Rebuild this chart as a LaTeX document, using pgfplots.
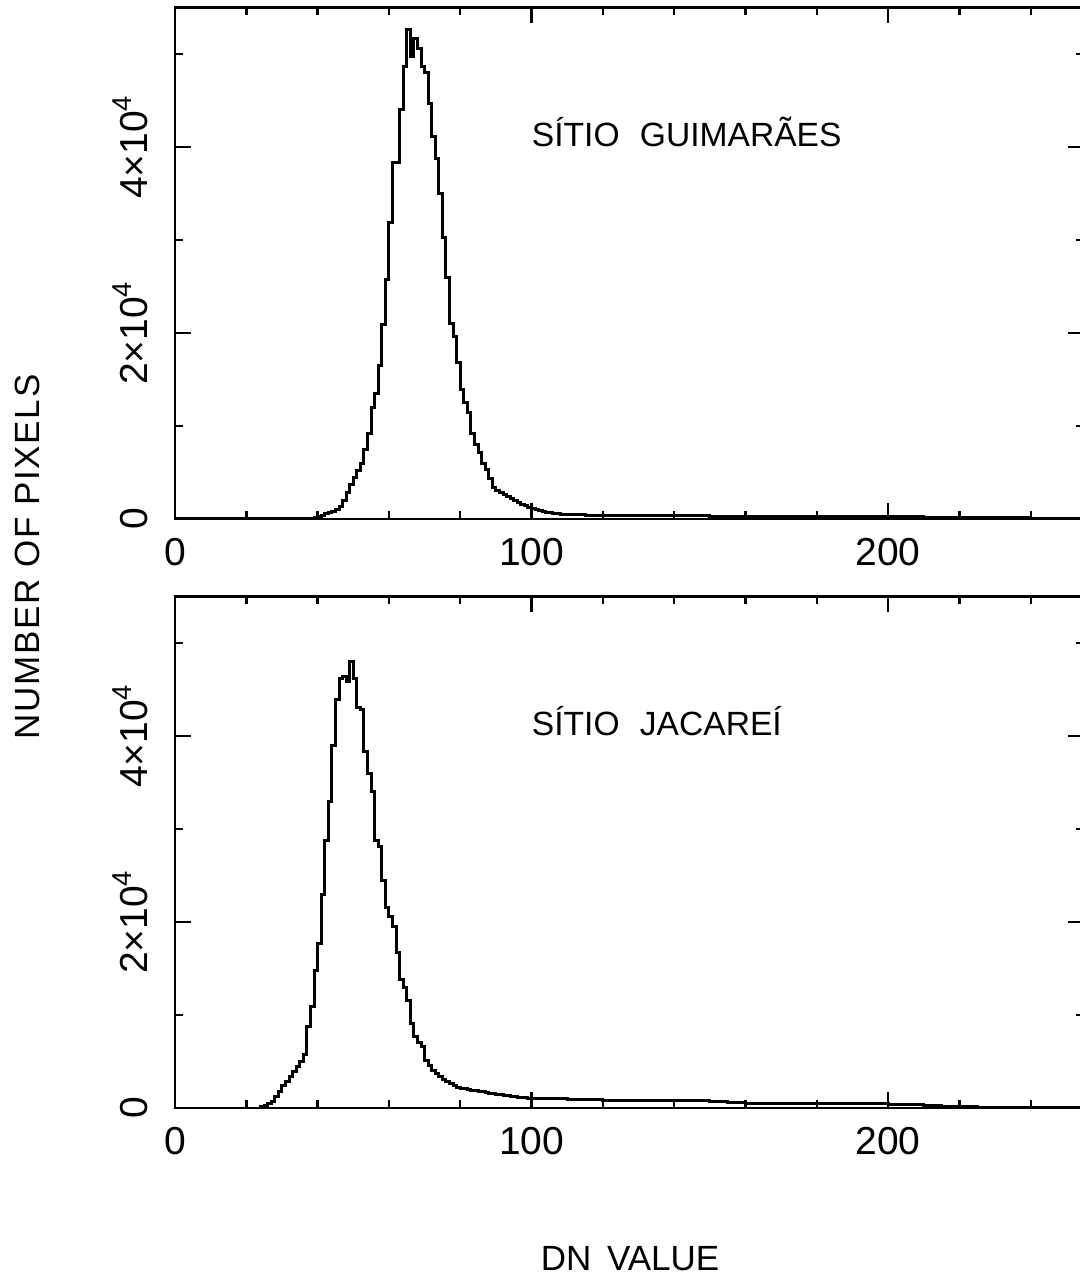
\documentclass[border=0pt]{standalone}
\usepackage{pgfplots}
\pgfplotsset{compat=1.18}
\usepackage{fontspec}
\setmainfont{Liberation Sans}
\newcommand{\tickfont}{\fontsize{19.5}{22}\selectfont}
\newcommand{\labfont}{\fontsize{17.5}{21}\selectfont}
\newcommand{\sitefont}{\fontsize{16.8}{20}\selectfont}

\pgfplotsset{
  histax/.style={
    scale only axis, width=454.6pt, height=255.8pt,
    xmin=0, xmax=255, ymin=0, ymax=55000,
    axis line style={line width=1.4pt, black},
    tick style={line width=1.2pt, black},
    major tick length=8pt, minor tick length=4pt,
    tick align=inside, xtick pos=both, ytick pos=both,
    xtick={0,100,200}, xticklabels={0,100,200},
    minor xtick={20,40,60,80,120,140,160,180,220,240},
    ytick={0,20000,40000},
    yticklabels={0,2×10\textsuperscript{4},4×10\textsuperscript{4}},
    minor ytick={10000,30000,50000},
    scaled y ticks=false,
    xticklabel style={font=\tickfont, anchor=north, inner sep=0pt},
    xticklabel shift=9.5pt,
    yticklabel style={font=\tickfont, rotate=90, anchor=base, inner sep=0pt},
    yticklabel shift=14pt,
    clip=true,
  }
}

\begin{document}
\begin{tikzpicture}
\begin{axis}[histax, at={(87.5pt,381pt)}, anchor=south west]
\addplot[const plot, black, line width=1.5pt] coordinates {
(0,0)(36,40)(37,60)(38,80)(39,150)(40,250)(41,400)(42,550)(43,700)(44,850)
(45,1050)(46,1300)(47,2000)(48,2900)(49,3700)(50,4500)(51,5200)(52,6000)
(53,7500)(54,9200)(55,12000)(56,13500)(57,16500)(58,20900)(59,25700)
(60,31900)(61,38300)(62,38300)(63,44000)(64,48600)(65,52600)(66,49700)
(67,51700)(68,50600)(69,48600)(70,48000)(71,44700)(72,41100)(73,38800)
(74,35000)(75,30300)(76,26000)(77,21000)(78,19600)(79,16800)(80,13900)
(81,12500)(82,11400)(83,9200)(84,8000)(85,7100)(86,6000)(87,5300)(88,4300)
(89,3400)(90,3100)(91,2800)(92,2600)(93,2400)(94,2200)(95,2000)(96,1800)
(97,1600)(98,1400)(99,1250)(100,1100)(101,1000)(102,900)(103,820)(104,750)
(105,680)(106,620)(107,570)(108,530)(109,500)(110,470)(112,440)(115,420)
(120,400)(125,380)(130,360)(135,345)(140,330)(145,325)(150,320)(160,310)
(170,300)(180,300)(190,280)(200,240)(210,180)(220,140)(230,110)(240,80)
(250,60)(255,60)
};
\node[font=\sitefont, anchor=base west, inner sep=0pt] at (axis cs:100,40000) {SÍTIO\hspace{0.6em}GUIMARÃES};
\end{axis}

\begin{axis}[histax, at={(87.5pt,86.5pt)}, anchor=south west]
\addplot[const plot, black, line width=1.5pt] coordinates {
(0,0)(23,0)(24,150)(25,320)(26,500)(27,700)(28,1200)(29,1750)(30,2400)
(31,2900)(32,3370)(33,3900)(34,4440)(35,5000)(36,5800)(37,8740)(38,10900)
(39,14800)(40,17700)(41,22900)(42,28800)(43,32900)(44,39000)(45,43900)
(46,46200)(47,46400)(48,45800)(49,48000)(50,46200)(51,43100)(52,42800)
(53,38300)(54,36000)(55,34000)(56,28800)(57,28100)(58,24500)(59,21600)
(60,20600)(61,19500)(62,16700)(63,13800)(64,13000)(65,11600)(66,9100)
(67,7660)(68,7000)(69,6600)(70,5160)(71,4600)(72,4080)(73,3700)(74,3370)
(75,3100)(76,2850)(77,2650)(78,2400)(79,2200)(80,2120)(81,2050)(82,1990)
(83,1930)(84,1870)(85,1810)(86,1750)(87,1680)(88,1610)(89,1540)(90,1470)
(91,1400)(92,1350)(93,1300)(94,1250)(95,1200)(96,1170)(97,1140)(98,1100)
(99,1070)(100,1040)(105,1000)(110,950)(115,900)(120,850)(125,820)(130,800)
(135,820)(140,850)(145,800)(150,700)(155,550)(160,480)(170,450)(180,450)
(190,460)(200,430)(205,350)(210,280)(215,200)(220,130)(225,80)(230,50)
(240,30)(250,20)(255,20)
};
\node[font=\sitefont, anchor=base west, inner sep=0pt] at (axis cs:100,40000) {SÍTIO\hspace{0.6em}JACAREÍ};
\end{axis}

\node[font=\labfont\addfontfeatures{LetterSpace=5}, rotate=90, inner sep=0pt] at (13.75pt,362pt) {NUMBER OF PIXELS};
\node[font=\labfont, inner sep=0pt] at (315pt,11.25pt) {DN\hspace{0.45em}VALUE};

\pgfresetboundingbox
\useasboundingbox (0,0) rectangle (540pt,640.5pt);
\end{tikzpicture}
\end{document}
